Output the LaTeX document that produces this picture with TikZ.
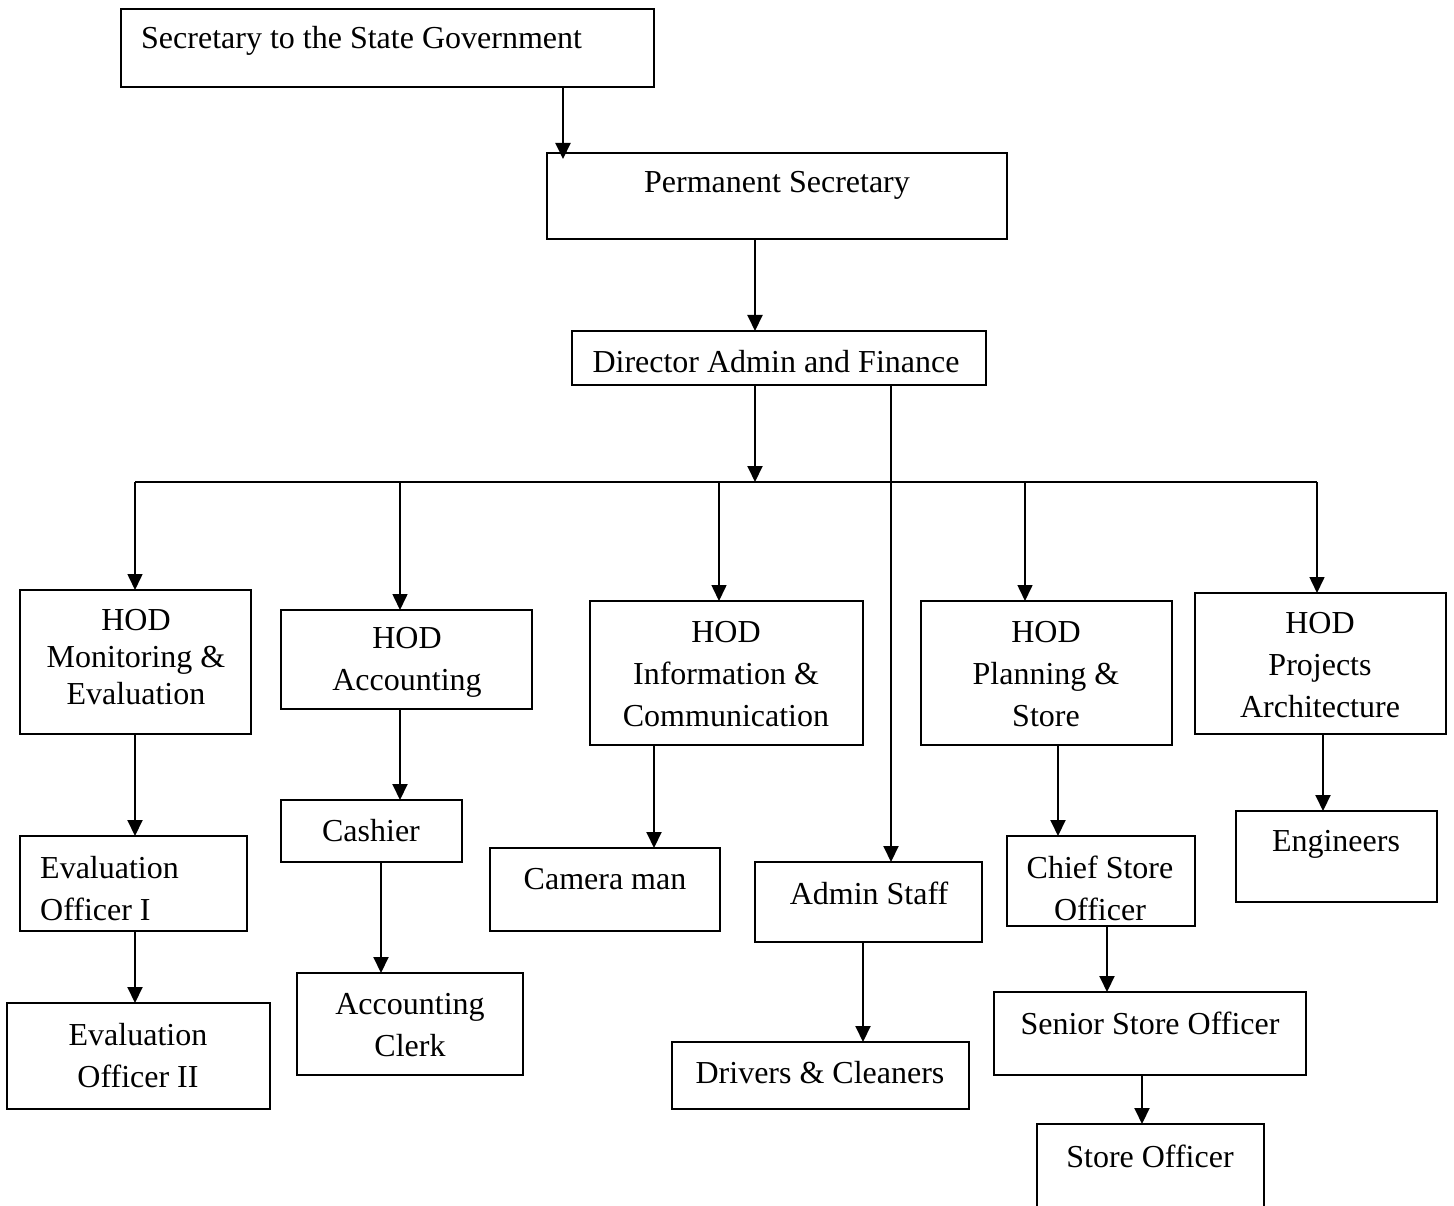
\documentclass[tikz,border=0pt]{standalone}
\usepackage{fontspec}
\setmainfont{Liberation Serif}
\usepackage{tikz}
\usetikzlibrary{arrows.meta, positioning}

\begin{document}
\begin{tikzpicture}[
  x=1pt, y=-1pt,
  box/.style={rectangle, draw=black, line width=1.3pt, inner sep=0pt, outer sep=0pt},
  txt/.style={inner sep=0pt, align=center, font=\fontsize{32}{42}\selectfont},
  arrow/.style={-{Triangle[width=15pt, length=16pt]}, line width=2pt},
  drop/.style={-{Triangle[width=15pt, length=16pt]}, line width=1.6pt},
  bus/.style={line width=1.5pt}
]
\useasboundingbox (0,0) rectangle (1454,1206);

\node[box, minimum width=533pt, minimum height=78pt] (sec) at (387.5,48) {};
\node[txt, anchor=west] (sec-t) at (141,41) {Secretary to the State Government};

\node[box, minimum width=460pt, minimum height=86pt] (perm) at (777,196) {};
\node[txt] (perm-t) at (777,185) {Permanent Secretary};

\node[box, minimum width=414pt, minimum height=54pt] (dir) at (779,358) {};
\node[txt] (dir-t) at (776,362) {Director Admin and Finance};

\node[box, minimum width=231pt, minimum height=144pt] (hodme) at (135.5,662) {};
\node[txt, font=\fontsize{32}{37}\selectfont] (hodme-t) at (136,657) {HOD\\Monitoring \&\\Evaluation};

\node[box, minimum width=251pt, minimum height=99pt] (hodacc) at (406.5,659.5) {};
\node[txt] (hodacc-t) at (407,662) {HOD\\Accounting};

\node[box, minimum width=273pt, minimum height=144pt] (hodinfo) at (726.5,673) {};
\node[txt] (hodinfo-t) at (726,674) {HOD\\Information \&\\Communication};

\node[box, minimum width=251pt, minimum height=144pt] (hodplan) at (1046.5,673) {};
\node[txt] (hodplan-t) at (1046,674) {HOD\\Planning \&\\Store};

\node[box, minimum width=251pt, minimum height=141pt] (hodproj) at (1320.5,663.5) {};
\node[txt] (hodproj-t) at (1320,665) {HOD\\Projects\\Architecture};

\node[box, minimum width=227pt, minimum height=95pt] (evalone) at (133.5,883.5) {};
\node[txt, align=left, anchor=west] (evalone-t) at (40,889) {Evaluation\\Officer I};

\node[box, minimum width=263pt, minimum height=106pt] (evaltwo) at (138.5,1056) {};
\node[txt] (evaltwo-t) at (138,1056) {Evaluation\\Officer II};

\node[box, minimum width=181pt, minimum height=62pt] (cashier) at (371.5,831) {};
\node[txt] (cashier-t) at (371,831) {Cashier};

\node[box, minimum width=226pt, minimum height=102pt] (clerk) at (410,1024) {};
\node[txt] (clerk-t) at (410,1025) {Accounting\\Clerk};

\node[box, minimum width=230pt, minimum height=83pt] (camera) at (605,889.5) {};
\node[txt] (camera-t) at (605,879) {Camera man};

\node[box, minimum width=227pt, minimum height=80pt] (admin) at (868.5,902) {};
\node[txt] (admin-t) at (869,893) {Admin Staff};

\node[box, minimum width=297pt, minimum height=67pt] (drivers) at (820.5,1075.5) {};
\node[txt] (drivers-t) at (820,1073) {Drivers \& Cleaners};

\node[box, minimum width=188pt, minimum height=90pt] (chief) at (1101,881) {};
\node[txt] (chief-t) at (1100,888) {Chief Store\\Officer};

\node[box, minimum width=312pt, minimum height=83pt] (senior) at (1150,1033.5) {};
\node[txt] (senior-t) at (1150,1023) {Senior Store Officer};

\node[box, minimum width=227pt, minimum height=86pt] (store) at (1150.5,1167) {};
\node[txt] (store-t) at (1150,1156) {Store Officer};

\node[box, minimum width=201pt, minimum height=91pt] (engineers) at (1336.5,856.5) {};
\node[txt] (engineers-t) at (1336,844) {Engineers};

\coordinate (busL) at (135,482);
\coordinate (busR) at (1317,482);
\coordinate (busM) at (755,482);

\draw[arrow] (sec.south -| 563,0) -- ([yshift=-6pt]perm.north -| 563,0);
\draw[arrow] (perm.south -| 755,0) -- (dir.north -| 755,0);
\draw[arrow] (dir.south -| busM) -- (busM);
\draw[arrow] (dir.south -| 891,0) -- (admin.north -| 891,0);

\draw[bus] (busL) -- (busR);
\draw[drop] (busL) -- (hodme.north -| busL);
\draw[drop] (busL -| 400,0) -- (hodacc.north -| 400,0);
\draw[drop] (busL -| 719,0) -- (hodinfo.north -| 719,0);
\draw[drop] (busL -| 1025,0) -- (hodplan.north -| 1025,0);
\draw[drop] (busR) -- (hodproj.north -| busR);

\draw[arrow] (hodme.south -| 135,0) -- (evalone.north -| 135,0);
\draw[arrow] (evalone.south -| 135,0) -- (evaltwo.north -| 135,0);
\draw[arrow] (hodacc.south -| 400,0) -- (cashier.north -| 400,0);
\draw[arrow] (cashier.south -| 381,0) -- (clerk.north -| 381,0);
\draw[arrow] (hodinfo.south -| 654,0) -- (camera.north -| 654,0);
\draw[arrow] (admin.south -| 863,0) -- (drivers.north -| 863,0);
\draw[arrow] (hodplan.south -| 1058,0) -- (chief.north -| 1058,0);
\draw[arrow] (chief.south -| 1107,0) -- (senior.north -| 1107,0);
\draw[arrow] (senior.south -| 1142,0) -- (store.north -| 1142,0);
\draw[arrow] (hodproj.south -| 1323,0) -- (engineers.north -| 1323,0);

\end{tikzpicture}
\end{document}
